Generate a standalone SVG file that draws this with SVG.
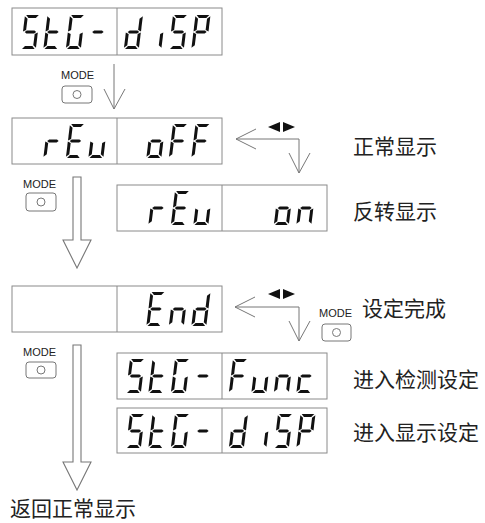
<svg xmlns="http://www.w3.org/2000/svg" xmlns:xlink="http://www.w3.org/1999/xlink" width="485" height="523" viewBox="0 0 485 523">
<style>
.box{fill:#fff;stroke:#8a8a8a;stroke-width:1}
.div{stroke:#8a8a8a;stroke-width:1}
.seg{fill:#111}
.ln{fill:none;stroke:#777;stroke-width:1}
.big{fill:#fff;stroke:#777;stroke-width:1.1}
.tri{fill:#111}
.mode{font-family:"Liberation Sans",Arial,sans-serif;font-size:11px;fill:#222}
.btn{fill:#fff;stroke:#777;stroke-width:1}
.cn{font-family:"Noto Sans CJK SC","Noto Sans",sans-serif;font-size:21px;fill:#222}
</style>
<defs>
<polygon id="sa" class="seg" points="1.2,0 13.8,0 11.2,3 3.8,3"/>
<polygon id="sd" class="seg" points="1.2,34 13.8,34 11.2,31 3.8,31"/>
<polygon id="sg" class="seg" points="1.8,17 3.6,15.5 11.4,15.5 13.2,17 11.4,18.5 3.6,18.5"/>
<polygon id="sf" class="seg" points="0,1.2 3,3.8 3,15 0,16.4"/>
<polygon id="sb" class="seg" points="15,1.2 15,16.4 12,15 12,3.8"/>
<polygon id="se" class="seg" points="0,17.6 3,19 3,30.2 0,32.8"/>
<polygon id="sc" class="seg" points="15,17.6 15,32.8 12,30.2 12,19"/>
<g id="L5"><use href="#sa"/><use href="#sf"/><use href="#sg"/><use href="#sc"/><use href="#sd"/></g>
<g id="Lt"><use href="#sf"/><use href="#se"/><use href="#sg"/><use href="#sd"/></g>
<g id="LG"><use href="#sa"/><use href="#sf"/><use href="#se"/><use href="#sd"/><use href="#sc"/></g>
<g id="Lm"><use href="#sg"/></g>
<g id="Ld"><use href="#sb"/><use href="#sc"/><use href="#sd"/><use href="#se"/><use href="#sg"/></g>
<g id="Li"><use href="#sc"/></g>
<g id="LP"><use href="#sa"/><use href="#sb"/><use href="#sf"/><use href="#sg"/><use href="#se"/></g>
<g id="Lr"><use href="#se"/><use href="#sg"/></g>
<g id="LE"><use href="#sa"/><use href="#sf"/><use href="#sg"/><use href="#se"/><use href="#sd"/></g>
<g id="Lu"><use href="#se"/><use href="#sd"/><use href="#sc"/></g>
<g id="Lo"><use href="#sc"/><use href="#sd"/><use href="#se"/><use href="#sg"/></g>
<g id="LF"><use href="#sa"/><use href="#sf"/><use href="#sg"/><use href="#se"/></g>
<g id="Ln"><use href="#se"/><use href="#sg"/><use href="#sc"/></g>
<g id="Lc"><use href="#sg"/><use href="#se"/><use href="#sd"/></g>
</defs>
<rect width="485" height="523" fill="#fff"/>

<g id="connectors">
<line class="ln" x1="114" y1="64" x2="114" y2="109"/>
<polyline class="ln" points="104,89 114,109 125,89"/>
<polygon class="big" points="73,177 81,177 81,240 91,240 77,268 63,240 73,240"/>
<polygon class="big" points="73,345 81,345 81,462 91,462 77,490 63,462 73,462"/>
<polyline class="ln" points="236,139 299,139 299,173"/>
<polyline class="ln" points="256,129 236,139 256,149"/>
<polyline class="ln" points="289,153 299,173 310,153"/>
<polygon class="tri" points="268,127 280,122 280,132"/>
<polygon class="tri" points="283,122 295,127 283,132"/>
<polyline class="ln" points="235,307 299,307 299,341"/>
<polyline class="ln" points="255,297 235,307 255,317"/>
<polyline class="ln" points="289,321 299,341 310,321"/>
<polygon class="tri" points="268,294 280,289 280,299"/>
<polygon class="tri" points="283,289 295,294 283,299"/>
</g>

<g id="disp1">
<rect class="box" x="12" y="8" width="210" height="47"/>
<line class="div" x1="117" y1="8" x2="117" y2="55"/>
<use href="#L5" transform="translate(25,15) skewX(-7)"/>
<use href="#Lt" transform="translate(47.5,15) skewX(-7)"/>
<use href="#LG" transform="translate(70,15) skewX(-7)"/>
<use href="#Lm" transform="translate(92.5,15) skewX(-7)"/>
<use href="#Ld" transform="translate(128,15) skewX(-7)"/>
<use href="#Li" transform="translate(150.5,15) skewX(-7)"/>
<use href="#L5" transform="translate(173,15) skewX(-7)"/>
<use href="#LP" transform="translate(195.5,15) skewX(-7)"/>
</g>

<g id="mode1">
<text class="mode" x="61" y="79">MODE</text>
<rect class="btn" x="62" y="86" width="30" height="17" rx="3"/>
<circle class="btn" cx="77" cy="94.5" r="4"/>
</g>

<g id="disp2">
<rect class="box" x="12" y="118" width="210" height="46"/>
<line class="div" x1="117" y1="118" x2="117" y2="164"/>
<use href="#Lr" transform="translate(47.5,124) skewX(-7)"/>
<use href="#LE" transform="translate(70,124) skewX(-7)"/>
<use href="#Lu" transform="translate(92.5,124) skewX(-7)"/>
<use href="#Lo" transform="translate(150.5,124) skewX(-7)"/>
<use href="#LF" transform="translate(173,124) skewX(-7)"/>
<use href="#LF" transform="translate(195.5,124) skewX(-7)"/>
</g>
<g id="label-normal"><text class="cn" x="353" y="154">正常显示</text></g>

<g id="mode2">
<text class="mode" x="23" y="188">MODE</text>
<rect class="btn" x="26" y="193" width="30" height="18" rx="3"/>
<circle class="btn" cx="41" cy="202" r="4"/>
</g>

<g id="disp3">
<rect class="box" x="117" y="185" width="210" height="46"/>
<line class="div" x1="222" y1="185" x2="222" y2="231"/>
<use href="#Lr" transform="translate(152.5,191) skewX(-7)"/>
<use href="#LE" transform="translate(175,191) skewX(-7)"/>
<use href="#Lu" transform="translate(197.5,191) skewX(-7)"/>
<use href="#Lo" transform="translate(278,191) skewX(-7)"/>
<use href="#Ln" transform="translate(300.5,191) skewX(-7)"/>
</g>
<g id="label-reverse"><text class="cn" x="353" y="219">反转显示</text></g>

<g id="disp4">
<rect class="box" x="12" y="286" width="210" height="46"/>
<line class="div" x1="117" y1="286" x2="117" y2="332"/>
<use href="#LE" transform="translate(150.5,292) skewX(-7)"/>
<use href="#Ln" transform="translate(173,292) skewX(-7)"/>
<use href="#Ld" transform="translate(195.5,292) skewX(-7)"/>
</g>

<g id="mode4">
<text class="mode" x="319" y="317">MODE</text>
<rect class="btn" x="322" y="324" width="29" height="17" rx="3"/>
<circle class="btn" cx="336.5" cy="332.5" r="4"/>
</g>
<g id="label-done"><text class="cn" x="362" y="316">设定完成</text></g>

<g id="mode3">
<text class="mode" x="23" y="356">MODE</text>
<rect class="btn" x="26" y="362" width="30" height="16" rx="3"/>
<circle class="btn" cx="41" cy="370" r="4"/>
</g>

<g id="disp5">
<rect class="box" x="117" y="353" width="210" height="46"/>
<line class="div" x1="222" y1="353" x2="222" y2="399"/>
<use href="#L5" transform="translate(130,359) skewX(-7)"/>
<use href="#Lt" transform="translate(152.5,359) skewX(-7)"/>
<use href="#LG" transform="translate(175,359) skewX(-7)"/>
<use href="#Lm" transform="translate(197.5,359) skewX(-7)"/>
<use href="#LF" transform="translate(233,359) skewX(-7)"/>
<use href="#Lu" transform="translate(255.5,359) skewX(-7)"/>
<use href="#Ln" transform="translate(278,359) skewX(-7)"/>
<use href="#Lc" transform="translate(300.5,359) skewX(-7)"/>
</g>
<g id="label-func"><text class="cn" x="353" y="387">进入检测设定</text></g>

<g id="disp6">
<rect class="box" x="117" y="408" width="210" height="45"/>
<line class="div" x1="222" y1="408" x2="222" y2="453"/>
<use href="#L5" transform="translate(130,414) skewX(-7)"/>
<use href="#Lt" transform="translate(152.5,414) skewX(-7)"/>
<use href="#LG" transform="translate(175,414) skewX(-7)"/>
<use href="#Lm" transform="translate(197.5,414) skewX(-7)"/>
<use href="#Ld" transform="translate(233,414) skewX(-7)"/>
<use href="#Li" transform="translate(255.5,414) skewX(-7)"/>
<use href="#L5" transform="translate(278,414) skewX(-7)"/>
<use href="#LP" transform="translate(300.5,414) skewX(-7)"/>
</g>
<g id="label-disp"><text class="cn" x="353" y="440">进入显示设定</text></g>

<g id="label-return"><text class="cn" x="10" y="516">返回正常显示</text></g>
</svg>
